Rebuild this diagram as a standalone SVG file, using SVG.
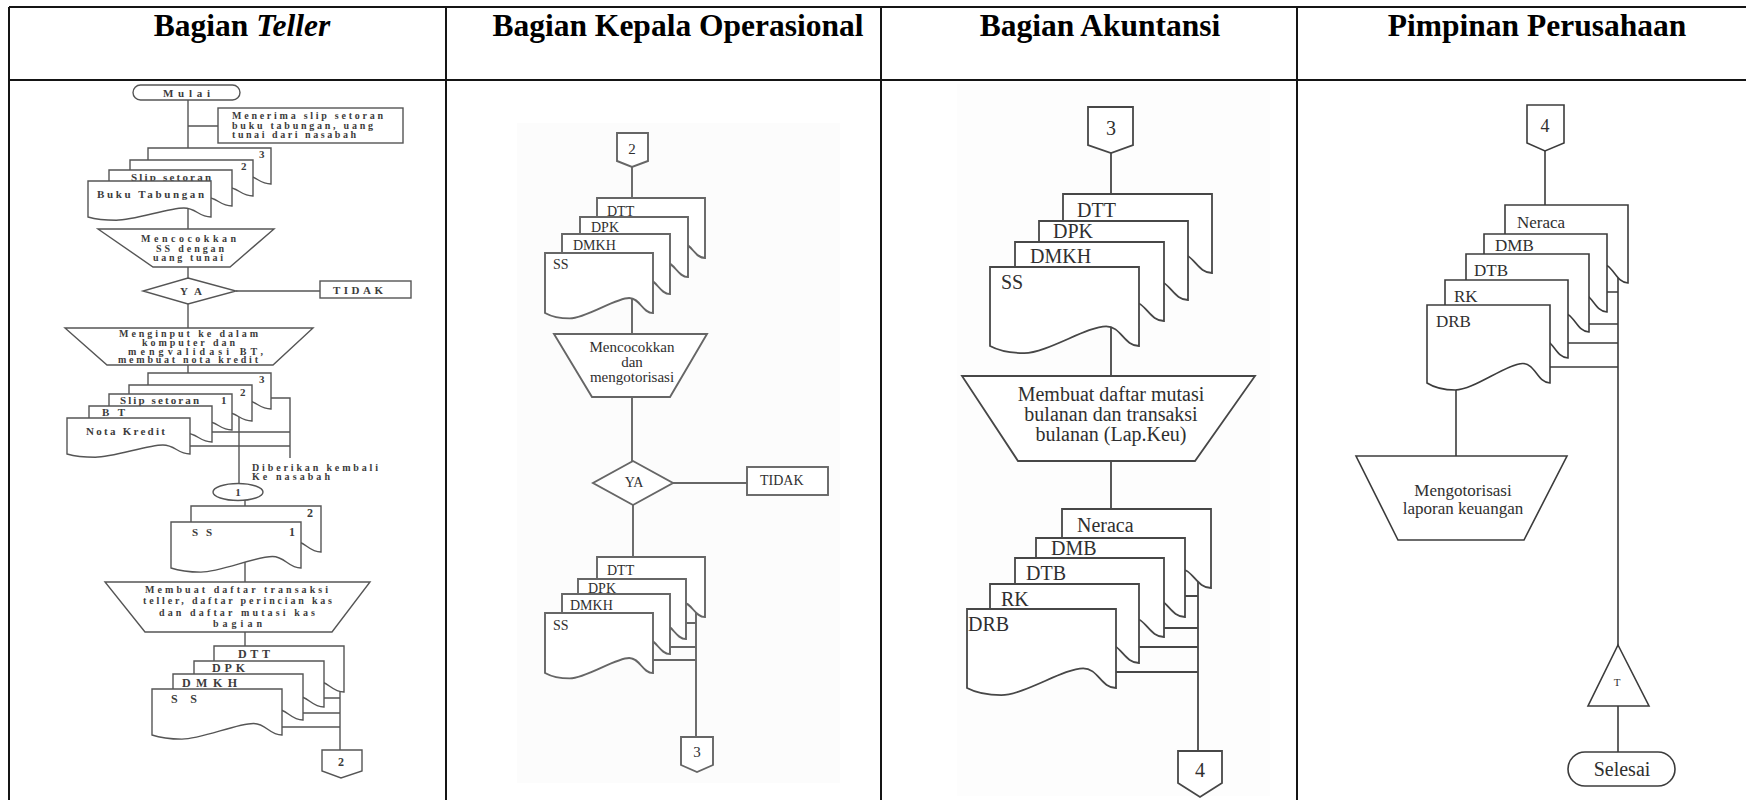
<svg xmlns="http://www.w3.org/2000/svg" width="1746" height="800" viewBox="0 0 1746 800">
<style>
.grid{stroke:#151515;stroke-width:2;fill:none}
.hd{font-family:"Liberation Serif","Times New Roman",serif;font-weight:bold;font-size:31.5px;fill:#000;text-anchor:middle}
.f1{fill:#fff;stroke:#555;stroke-width:1.4}
.f2{fill:#fff;stroke:#666;stroke-width:1.9}
.f3{fill:#fff;stroke:#474747;stroke-width:1.8}
.f4{fill:#fff;stroke:#3c3c3c;stroke-width:1.6}
.l1{fill:none;stroke:#555;stroke-width:1.4}
.l2{fill:none;stroke:#666;stroke-width:1.9}
.l3{fill:none;stroke:#474747;stroke-width:1.8}
.l4{fill:none;stroke:#3c3c3c;stroke-width:1.6}
.t{font-family:"Liberation Serif","Times New Roman",serif;fill:#2f2f2f}
.b{font-weight:bold;fill:#3c3c3c}
.m{text-anchor:middle}
.z10{font-size:10px}
.z11{font-size:11px}
.z12{font-size:12px}
.z14{font-size:14px}
.z15{font-size:15px}
.z17{font-size:17px}
.z18{font-size:18px}
.z20{font-size:20px}
</style>
<defs>
<path id="docA" d="M0 0H123V36C110.7 36 108.2 27 95.9 27C80 27 46.7 39.2 28.3 39.2C14.8 39.2 4.9 37.4 0 36Z"/>
<path id="docB" d="M0 0H130V46C117 46 114.4 34.5 101.4 34.5C84.5 34.5 49.4 50.1 29.9 50.1C15.6 50.1 5.2 47.8 0 46Z"/>
<path id="docC" d="M0 0H108V60C97.2 60 95 45 84.2 45C70.2 45 41 65.4 24.8 65.4C13 65.4 4.3 62.4 0 60Z"/>
<path id="docD" d="M0 0H149V79C134.1 79 131.1 59.3 116.2 59.3C96.9 59.3 56.6 86.1 34.3 86.1C17.9 86.1 6 82.2 0 79Z"/>
<path id="docE" d="M0 0H123V78C110.7 78 108.2 58.5 95.9 58.5C80 58.5 46.7 85 28.3 85C14.8 85 4.9 81.1 0 78Z"/>
</defs>
<rect x="0" y="0" width="1746" height="800" fill="#fff"/>
<rect x="517" y="123" width="323" height="660" fill="#fcfcfc"/>
<rect x="957" y="84" width="313" height="712" fill="#fdfdfd"/>

<g id="table">
<path class="grid" d="M9 7H1746M9 80H1746M9 7V800M446 7V800M881 7V800M1297 7V800"/>
<text class="hd" x="242" y="36">Bagian <tspan font-style="italic">Teller</tspan></text>
<text class="hd" x="678" y="36">Bagian Kepala Operasional</text>
<text class="hd" x="1100" y="36">Bagian Akuntansi</text>
<text class="hd" x="1537" y="36">Pimpinan Perusahaan</text>
</g>

<g id="connectors">
<path class="l1" d="M188 100V155M188 126H218M188 200V229M188 267V278M236 291H320M188 304V328M188 365V375"/>
<path class="l1" d="M265 398H290V458M205 432H290M185 446H290M239 405V484"/>
<path class="l1" d="M245 498V510M245 560V582M245 632V650"/>
<path class="l1" d="M340 685V750M318 698H340M298 713H340M277 727H340"/>
<path class="l2" d="M632 167V205M632 295V334M632 397V461M673 483H747M633 505V560"/>
<path class="l2" d="M696 600V737M682 623H696M666 647H696M648 660H696"/>
<path class="l3" d="M1111 153V200M1111 320V376M1111 461V515"/>
<path class="l3" d="M1198 575V751M1180 596H1198M1158 628H1198M1133 647H1198M1111 672H1198"/>
<path class="l4" d="M1545 151V210M1618 275V645M1600 292H1618M1583 324H1618M1562 343H1618M1544 367H1618M1456 380V456M1618 706V752"/>
</g>

<!-- Column 1: Teller -->
<g id="mulai">
<rect class="f1" x="133" y="85" width="107" height="15" rx="7.5"/>
<text class="t b z11" x="163" y="97" textLength="47" lengthAdjust="spacing">Mulai</text>
</g>
<g id="terima">
<rect class="f1" x="218" y="108" width="185" height="35"/>
<text class="t b z10" x="232" y="119" textLength="151" lengthAdjust="spacing">Menerima slip setoran</text>
<text class="t b z10" x="232" y="128.5" textLength="141" lengthAdjust="spacing">buku tabungan, uang</text>
<text class="t b z10" x="232" y="137.5" textLength="124" lengthAdjust="spacing">tunai dari nasabah</text>
</g>
<g id="docs1">
<use href="#docA" class="f1" x="148" y="148"/>
<text class="t b z11" x="259" y="158">3</text>
<use href="#docA" class="f1" x="130" y="160"/>
<text class="t b z11" x="241" y="170">2</text>
<use href="#docA" class="f1" x="109" y="170"/>
<text class="t b z11" x="131" y="181" textLength="80" lengthAdjust="spacing">Slip setoran</text>
<use href="#docA" class="f1" x="88" y="181"/>
<text class="t b z11" x="97" y="198" textLength="107" lengthAdjust="spacing">Buku Tabungan</text>
</g>
<g id="cocok1">
<path class="f1" d="M98 229H274L230 267H153Z"/>
<text class="t b z10" x="141" y="242" textLength="95" lengthAdjust="spacing">Mencocokkan</text>
<text class="t b z10" x="156" y="251.5" textLength="68" lengthAdjust="spacing">SS dengan</text>
<text class="t b z10" x="153" y="260.5" textLength="70" lengthAdjust="spacing">uang tunai</text>
</g>
<g id="ya1">
<path class="f1" d="M188 278L236 291L188 304L143 291Z"/>
<text class="t b z11" x="180" y="295" textLength="22" lengthAdjust="spacing">YA</text>
</g>
<g id="tidak1">
<rect class="f1" x="320" y="281" width="91" height="17"/>
<text class="t b z11" x="333" y="294" textLength="50" lengthAdjust="spacing">TIDAK</text>
</g>
<g id="input1">
<path class="f1" d="M65 328H313L273 365H107Z"/>
<text class="t b z10" x="119" y="337" textLength="139" lengthAdjust="spacing">Menginput ke dalam</text>
<text class="t b z10" x="142" y="345.5" textLength="93" lengthAdjust="spacing">komputer dan</text>
<text class="t b z10" x="128" y="354.5" textLength="135" lengthAdjust="spacing">mengvalidasi BT,</text>
<text class="t b z10" x="118" y="363" textLength="140" lengthAdjust="spacing">membuat nota kredit</text>
</g>
<g id="docs2">
<use href="#docA" class="f1" x="148" y="373"/>
<text class="t b z11" x="259" y="383">3</text>
<use href="#docA" class="f1" x="129" y="385"/>
<text class="t b z11" x="240" y="396">2</text>
<use href="#docA" class="f1" x="109" y="394"/>
<text class="t b z11" x="120" y="404" textLength="79" lengthAdjust="spacing">Slip setoran</text>
<text class="t b z11" x="221" y="404">1</text>
<use href="#docA" class="f1" x="89" y="406"/>
<text class="t b z11" x="102" y="416" textLength="23" lengthAdjust="spacing">B T</text>
<use href="#docA" class="f1" x="67" y="418"/>
<text class="t b z11" x="86" y="435" textLength="79" lengthAdjust="spacing">Nota Kredit</text>
</g>
<g id="kembali">
<text class="t b z10" x="252" y="471" textLength="126" lengthAdjust="spacing">Diberikan kembali</text>
<text class="t b z10" x="252" y="480" textLength="78" lengthAdjust="spacing">Ke nasabah</text>
</g>
<g id="conn1">
<ellipse class="f1" cx="238" cy="492" rx="25" ry="8.5"/>
<text class="t b z11 m" x="238" y="496">1</text>
</g>
<g id="docs3">
<use href="#docB" class="f1" x="191" y="506"/>
<text class="t b z12" x="307" y="517">2</text>
<use href="#docB" class="f1" x="171" y="522"/>
<text class="t b z11" x="192" y="536" textLength="20" lengthAdjust="spacing">SS</text>
<text class="t b z12" x="289" y="536">1</text>
</g>
<g id="daftar1">
<path class="f1" d="M105 582H370L332 632H145Z"/>
<text class="t b z10" x="145" y="593" textLength="183" lengthAdjust="spacing">Membuat daftar transaksi</text>
<text class="t b z10" x="143" y="604" textLength="189" lengthAdjust="spacing">teller, daftar perincian kas</text>
<text class="t b z10" x="159" y="615.5" textLength="156" lengthAdjust="spacing">dan daftar mutasi kas</text>
<text class="t b z10" x="213" y="627" textLength="49" lengthAdjust="spacing">bagian</text>
</g>
<g id="docs4">
<use href="#docB" class="f1" x="214" y="646"/>
<text class="t b z12" x="238" y="658" textLength="32" lengthAdjust="spacing">DTT</text>
<use href="#docB" class="f1" x="194" y="661"/>
<text class="t b z12" x="212" y="672" textLength="33" lengthAdjust="spacing">DPK</text>
<use href="#docB" class="f1" x="173" y="674"/>
<text class="t b z12" x="182" y="687" textLength="55" lengthAdjust="spacing">DMKH</text>
<use href="#docB" class="f1" x="152" y="689"/>
<text class="t b z12" x="171" y="703" textLength="26" lengthAdjust="spacing">S S</text>
</g>
<g id="off2a">
<path class="f1" d="M322 750H362V771L341 778L322 771Z"/>
<text class="t b z12 m" x="341" y="766">2</text>
</g>

<!-- Column 2: Kepala Operasional -->
<g id="off2b">
<path class="f2" d="M617 133H648V161L632 167L617 161Z"/>
<text class="t z15 m" x="632" y="154">2</text>
</g>
<g id="docs5">
<use href="#docC" class="f2" x="597" y="198"/>
<text class="t z14" x="607" y="216">DTT</text>
<use href="#docC" class="f2" x="580" y="217"/>
<text class="t z14" x="591" y="232">DPK</text>
<use href="#docC" class="f2" x="562" y="234"/>
<text class="t z14" x="573" y="250">DMKH</text>
<use href="#docC" class="f2" x="545" y="253"/>
<text class="t z14" x="553" y="269">SS</text>
</g>
<g id="cocok2">
<path class="f2" d="M554 334H707L670 397H592Z"/>
<text class="t z15 m" x="632" y="352">Mencocokkan</text>
<text class="t z15 m" x="632" y="367">dan</text>
<text class="t z15 m" x="632" y="382">mengotorisasi</text>
</g>
<g id="ya2">
<path class="f2" d="M633 461L673 483L633 505L593 483Z"/>
<text class="t z14 m" x="634" y="487">YA</text>
</g>
<g id="tidak2">
<rect class="f2" x="747" y="467" width="81" height="28"/>
<text class="t z14" x="760" y="485">TIDAK</text>
</g>
<g id="docs6">
<use href="#docC" class="f2" x="597" y="557"/>
<text class="t z14" x="607" y="575">DTT</text>
<use href="#docC" class="f2" x="578" y="579"/>
<text class="t z14" x="588" y="593">DPK</text>
<use href="#docC" class="f2" x="562" y="594"/>
<text class="t z14" x="570" y="610">DMKH</text>
<use href="#docC" class="f2" x="545" y="613"/>
<text class="t z14" x="553" y="630">SS</text>
</g>
<g id="off3a">
<path class="f2" d="M681 737H713V765L697 772L681 765Z"/>
<text class="t z15 m" x="697" y="757">3</text>
</g>

<!-- Column 3: Akuntansi -->
<g id="off3b">
<path class="f3" d="M1088 107H1133V145L1111 153L1088 145Z"/>
<text class="t z20 m" x="1111" y="135">3</text>
</g>
<g id="docs7">
<use href="#docD" class="f3" x="1063" y="194"/>
<text class="t z20" x="1077" y="217">DTT</text>
<use href="#docD" class="f3" x="1039" y="221"/>
<text class="t z20" x="1053" y="238">DPK</text>
<use href="#docD" class="f3" x="1015" y="242"/>
<text class="t z20" x="1030" y="263">DMKH</text>
<use href="#docD" class="f3" x="990" y="267"/>
<text class="t z20" x="1001" y="289">SS</text>
</g>
<g id="mutasi">
<path class="f3" d="M962 376H1255L1195 461H1018Z"/>
<text class="t z20 m" x="1111" y="401">Membuat daftar mutasi</text>
<text class="t z20 m" x="1111" y="421">bulanan dan transaksi</text>
<text class="t z20 m" x="1111" y="441">bulanan (Lap.Keu)</text>
</g>
<g id="docs8">
<use href="#docD" class="f3" x="1062" y="509"/>
<text class="t z20" x="1077" y="532">Neraca</text>
<use href="#docD" class="f3" x="1036" y="538"/>
<text class="t z20" x="1051" y="555">DMB</text>
<use href="#docD" class="f3" x="1015" y="558"/>
<text class="t z20" x="1026" y="580">DTB</text>
<use href="#docD" class="f3" x="990" y="584"/>
<text class="t z20" x="1001" y="606">RK</text>
<use href="#docD" class="f3" x="967" y="609"/>
<text class="t z20" x="968" y="631">DRB</text>
</g>
<g id="off4a">
<path class="f3" d="M1178 751H1222V783L1200 797L1178 783Z"/>
<text class="t z20 m" x="1200" y="777">4</text>
</g>

<!-- Column 4: Pimpinan -->
<g id="off4b">
<path class="f4" d="M1527 105H1564V143L1545 151L1527 143Z"/>
<text class="t z18 m" x="1545" y="132">4</text>
</g>
<g id="docs9">
<use href="#docE" class="f4" x="1505" y="205"/>
<text class="t z17" x="1517" y="228">Neraca</text>
<use href="#docE" class="f4" x="1484" y="234"/>
<text class="t z17" x="1495" y="251">DMB</text>
<use href="#docE" class="f4" x="1466" y="254"/>
<text class="t z17" x="1474" y="276">DTB</text>
<use href="#docE" class="f4" x="1445" y="280"/>
<text class="t z17" x="1454" y="302">RK</text>
<use href="#docE" class="f4" x="1427" y="305"/>
<text class="t z17" x="1436" y="327">DRB</text>
</g>
<g id="otorisasi">
<path class="f4" d="M1356 456H1567L1524 540H1398Z"/>
<text class="t z17 m" x="1463" y="496">Mengotorisasi</text>
<text class="t z17 m" x="1463" y="514">laporan keuangan</text>
</g>
<g id="arsip">
<path class="f4" d="M1618 645L1649 706H1588Z"/>
<text class="t z11 m" x="1617" y="686">T</text>
</g>
<g id="selesai">
<rect class="f4" x="1568" y="752" width="107" height="34" rx="17"/>
<text class="t z20 m" x="1622" y="776">Selesai</text>
</g>
</svg>
